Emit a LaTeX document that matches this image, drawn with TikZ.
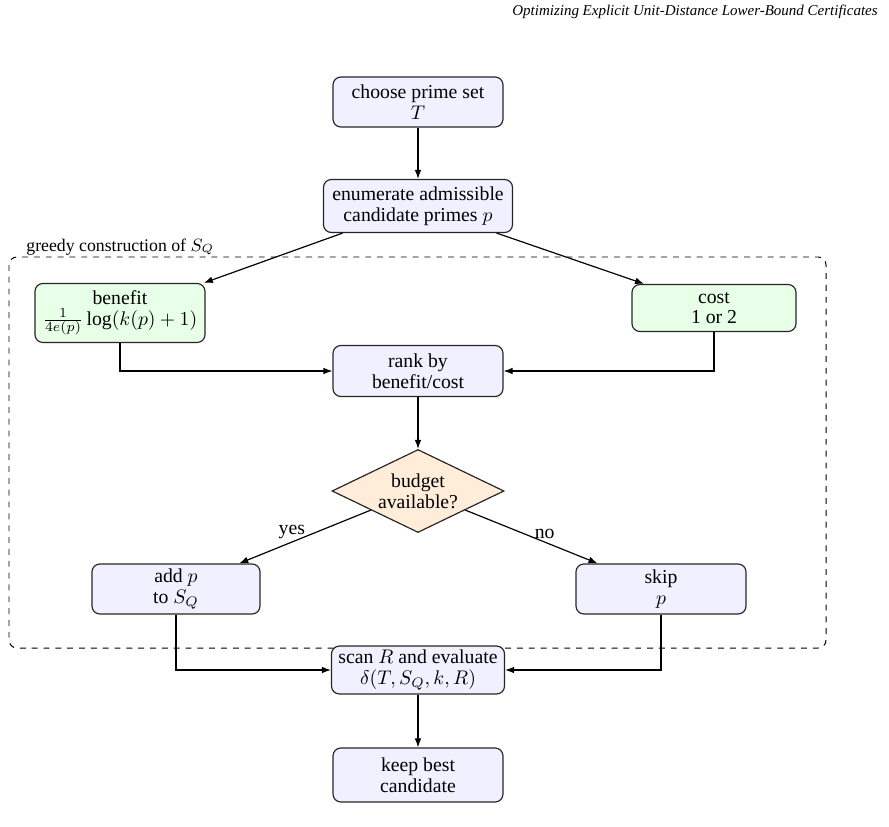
\documentclass[tikz,border=0pt]{standalone}
\usepackage{fontspec}
\setmainfont{Liberation Serif}
\usetikzlibrary{arrows.meta,shapes.geometric}
\newlength\px
\setlength\px{0.507pt}
\begin{document}
\begin{tikzpicture}[x=0.507pt,y=-0.507pt,
  box/.style={draw=black!85, line width=0.6pt, rounded corners=4pt, fill=blue!6,
    align=center, inner sep=2pt, font=\fontsize{10}{10.5}\selectfont},
  gbox/.style={box, fill=green!9},
  dec/.style={draw=black!85, line width=0.6pt, shape=diamond, fill=orange!15, inner sep=0pt},
  arr/.style={-{Latex[length=4.6pt,width=3.4pt]}, line width=0.6pt},
  lab/.style={font=\fontsize{10}{11}\selectfont, inner sep=1.5pt}
]
\useasboundingbox (0,0) rectangle (889,826);
% header
\node[anchor=east, inner sep=0pt, font=\fontsize{7.6}{9}\selectfont\itshape] (hdr) at (878,12)
  {Optimizing Explicit Unit-Distance Lower-Bound Certificates};
% group frame
\draw[dashed, line width=0.5pt, rounded corners=4pt] (9,257) rectangle (826,648);
\node[anchor=base west, inner sep=0pt, font=\fontsize{9}{10}\selectfont] (glab) at (26,251)
  {greedy construction of $S_Q$};
% nodes
\node[box, minimum width={170*\px}, minimum height={50*\px}] (choose) at (418,102) {choose prime set\\$T$};
\node[box, minimum width={189*\px}, minimum height={53*\px}] (enum) at (418,206) {enumerate admissible\\candidate primes $p$};
\node[gbox, minimum width={170*\px}, minimum height={59*\px}] (ben) at (120,313) {benefit\\$\frac{1}{4e(p)}\log(k(p)+1)$};
\node[gbox, minimum width={164*\px}, minimum height={47*\px}] (cost) at (714,308) {cost\\1 or 2};
\node[box, minimum width={170*\px}, minimum height={51*\px}] (rank) at (418,371) {rank by\\benefit/cost};
\node[dec, minimum width={172*\px}, minimum height={83*\px}] (dia) at (418,491) {};
\node[align=center, inner sep=0pt, font=\fontsize{10}{10.5}\selectfont] (diat) at (418,491) {budget\\available?};
\node[box, minimum width={168*\px}, minimum height={50*\px}] (add) at (176,589) {add $p$\\to $S_Q$};
\node[box, minimum width={170*\px}, minimum height={50*\px}] (skip) at (661,589) {skip\\$p$};
\node[box, minimum width={173*\px}, minimum height={46*\px}] (scan) at (418,670) {scan $R$ and evaluate\\$\delta(T,S_Q,k,R)$};
\node[box, minimum width={170*\px}, minimum height={54*\px}] (keep) at (418,775) {keep best\\candidate};
% connectors
\draw[arr] (choose) -- (enum);
\draw[arr] (enum) -- (ben);
\draw[arr] (enum) -- (cost);
\draw[arr] (ben.south) |- (rank.west);
\draw[arr] (cost.south) |- (rank.east);
\draw[arr] (rank) -- (dia);
\draw[arr] (dia) -- node[pos=0.6, above, lab] (yes) {yes} (add);
\draw[arr] (dia) -- node[pos=0.6, above, lab] (no) {no} (skip);
\draw[arr] (add.south) |- (scan.west);
\draw[arr] (skip.south) |- (scan.east);
\draw[arr] (scan) -- (keep);
\end{tikzpicture}
\end{document}
